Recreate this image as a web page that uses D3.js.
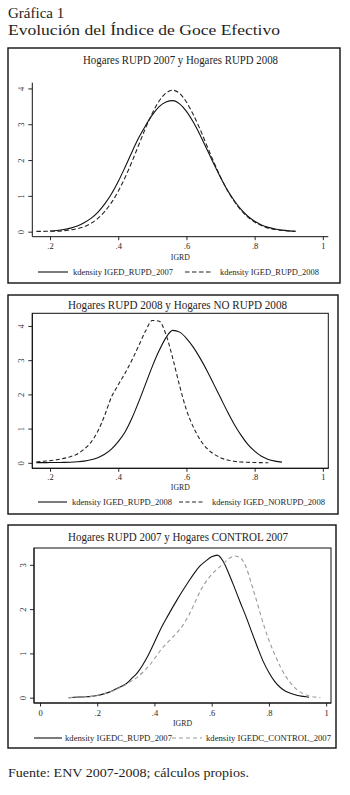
<!DOCTYPE html>
<html><head><meta charset="utf-8">
<script src="https://cdn.jsdelivr.net/npm/d3@7"></script>
<style>
body{margin:0;background:#fff}
svg{display:block}
text{font-family:"Liberation Serif","DejaVu Serif",serif;fill:#1e1e1e}
</style>
</head><body>
<svg id="c" width="350" height="795"></svg>
<script>
// ---------- DATA ----------
const mainTitle = "Gráfica 1";
const subTitle = "Evolución del Índice de Goce Efectivo";
const footer = "Fuente: ENV 2007-2008; cálculos propios.";
const panelTitles = ["Hogares RUPD 2007 y Hogares RUPD 2008",
                     "Hogares RUPD 2008 y Hogares NO RUPD 2008",
                     "Hogares RUPD 2007 y Hogares CONTROL 2007"];
const xAxisTitle = "IGRD";
const legendLabels = [["kdensity IGED_RUPD_2007","kdensity IGED_RUPD_2008"],
                      ["kdensity IGED_RUPD_2008","kdensity IGED_NORUPD_2008"],
                      ["kdensity IGEDC_RUPD_2007","kdensity IGEDC_CONTROL_2007"]];
const xTicks12 = [0.2,0.4,0.6,0.8,1];
const xTickLabels12 = [".2",".4",".6",".8","1"];
const xTicks3 = [0,0.2,0.4,0.6,0.8,1];
const xTickLabels3 = ["0",".2",".4",".6",".8","1"];
const yTicks12 = [0,1,2,3,4];
const yTicks3 = [0,1,2,3];

// Panel 1
const p1aX = [0.20,0.22,0.24,0.26,0.28,0.30,0.32,0.34,0.36,0.38,0.40,0.42,0.44,0.46,0.48,0.50,0.52,0.54,0.56,0.58,0.60,0.62,0.64,0.66,0.68,0.70,0.72,0.74,0.76,0.78,0.80,0.82,0.84,0.86,0.88,0.90,0.92];
const p1aY = [0.02,0.035,0.06,0.10,0.16,0.25,0.37,0.54,0.77,1.05,1.40,1.80,2.22,2.62,2.96,3.26,3.49,3.62,3.66,3.57,3.36,3.06,2.70,2.30,1.90,1.51,1.16,0.87,0.62,0.43,0.29,0.19,0.12,0.073,0.043,0.024,0.013];
const p1bX = [0.16,0.18,0.20,0.22,0.24,0.26,0.28,0.30,0.32,0.34,0.36,0.38,0.40,0.42,0.44,0.46,0.48,0.50,0.52,0.54,0.56,0.58,0.60,0.62,0.64,0.66,0.68,0.70,0.72,0.74,0.76,0.78,0.80,0.82,0.84,0.86,0.88,0.90,0.92];
const p1bY = [0.01,0.01,0.012,0.016,0.028,0.05,0.085,0.14,0.23,0.37,0.56,0.81,1.13,1.51,1.95,2.42,2.89,3.31,3.65,3.87,3.95,3.86,3.62,3.27,2.86,2.40,1.95,1.53,1.16,0.85,0.60,0.41,0.27,0.17,0.10,0.06,0.035,0.02,0.01];

// Panel 2
const p2aX = [0.16,0.18,0.20,0.22,0.24,0.26,0.28,0.30,0.32,0.34,0.36,0.38,0.40,0.42,0.44,0.46,0.48,0.50,0.52,0.54,0.56,0.58,0.60,0.62,0.64,0.66,0.68,0.70,0.72,0.74,0.76,0.78,0.80,0.82,0.84,0.86,0.88];
const p2aY = [0.005,0.006,0.008,0.01,0.013,0.018,0.03,0.05,0.09,0.15,0.25,0.40,0.62,0.90,1.30,1.78,2.30,2.82,3.28,3.66,3.87,3.82,3.64,3.38,3.06,2.70,2.30,1.90,1.50,1.13,0.81,0.54,0.34,0.19,0.10,0.05,0.02];
const p2bX = [0.16,0.18,0.20,0.22,0.24,0.26,0.28,0.30,0.32,0.34,0.36,0.38,0.40,0.42,0.44,0.46,0.48,0.50,0.52,0.54,0.56,0.58,0.60,0.62,0.64,0.66,0.68,0.70,0.72,0.74,0.76,0.78,0.80,0.82,0.84];
const p2bY = [0.03,0.045,0.065,0.09,0.13,0.18,0.26,0.40,0.60,0.92,1.38,1.92,2.28,2.62,3.00,3.42,3.85,4.16,4.14,3.75,3.05,2.25,1.55,1.05,0.68,0.42,0.26,0.15,0.08,0.045,0.025,0.015,0.01,0.005,0.002];

// Panel 3
const p3aX = [0.10,0.12,0.14,0.16,0.18,0.20,0.22,0.24,0.26,0.28,0.30,0.32,0.34,0.36,0.38,0.40,0.42,0.44,0.46,0.48,0.50,0.52,0.54,0.56,0.58,0.60,0.62,0.64,0.66,0.68,0.70,0.72,0.74,0.76,0.78,0.80,0.82,0.84,0.86,0.88,0.90,0.92,0.94];
const p3aY = [0.00,0.01,0.015,0.02,0.03,0.05,0.08,0.12,0.18,0.24,0.31,0.43,0.56,0.75,0.98,1.25,1.53,1.77,2.00,2.22,2.43,2.63,2.82,2.98,3.09,3.18,3.22,3.08,2.80,2.48,2.15,1.83,1.48,1.14,0.82,0.57,0.37,0.23,0.14,0.09,0.05,0.03,0.01];
const p3bX = [0.10,0.12,0.14,0.16,0.18,0.20,0.22,0.24,0.26,0.28,0.30,0.32,0.34,0.36,0.38,0.40,0.42,0.44,0.46,0.48,0.50,0.52,0.54,0.56,0.58,0.60,0.62,0.64,0.66,0.68,0.70,0.72,0.74,0.76,0.78,0.80,0.82,0.84,0.86,0.88,0.90,0.92,0.94,0.96,0.98];
const p3bY = [0.00,0.01,0.015,0.02,0.03,0.05,0.08,0.12,0.17,0.23,0.30,0.38,0.46,0.58,0.71,0.88,1.06,1.21,1.34,1.48,1.64,1.86,2.13,2.41,2.62,2.78,2.91,3.02,3.14,3.20,3.16,2.95,2.55,2.12,1.68,1.30,0.98,0.70,0.47,0.30,0.17,0.09,0.04,0.015,0.00];

// ---------- LAYOUT ----------
const svg = d3.select("#c");
svg.append("rect").attr("width",350).attr("height",795).attr("fill","#fff");

svg.append("text").attr("x",8).attr("y",18).attr("font-size",15).text(mainTitle);
svg.append("text").attr("x",8).attr("y",35).attr("font-size",15)
  .attr("textLength",272).attr("lengthAdjust","spacingAndGlyphs").text(subTitle);
svg.append("text").attr("x",8).attr("y",777).attr("font-size",12.5)
  .attr("textLength",241).attr("lengthAdjust","spacingAndGlyphs").text(footer);

const panels = [
  {outer:[8,48,332,235], plot:{l:32.3,r:328.3,t:82.7,b:236.7}, box:false,
   xd:[0.148,1.016], yd:[-0.14,4.16], xt:xTicks12, xl:xTickLabels12, yt:yTicks12,
   title:{cx:180.5,y:63.5,size:11.5,len:195}, xlabOff:12, igrd:259.5, legY:272,
   leg:[[38,68,73,100],[185,213,220,99]],
   series:[{x:p1aX,y:p1aY,color:"#111",dash:null},{x:p1bX,y:p1bY,color:"#222",dash:"4.5,2.5"}]},
  {outer:[8,295,330,219], plot:{l:32.3,r:328.3,t:313.3,b:468.3}, box:true,
   xd:[0.148,1.016], yd:[-0.16,4.37], xt:xTicks12, xl:xTickLabels12, yt:yTicks12,
   title:{cx:177.5,y:309,size:12.5,len:219}, xlabOff:12, igrd:489.5, legY:502,
   leg:[[38,67,72,100],[179,205,212,113]],
   series:[{x:p2aX,y:p2aY,color:"#111",dash:null},{x:p2bX,y:p2bY,color:"#222",dash:"4,2.5"}]},
  {outer:[8,525,328,223], plot:{l:34,r:331,t:548,b:703}, box:true,
   xd:[-0.021,1.017], yd:[-0.12,3.38], xt:xTicks3, xl:xTickLabels3, yt:yTicks3,
   title:{cx:178,y:541,size:12.5,len:220}, xlabOff:13, igrd:725.5, legY:738,
   leg:[[34,62,65,107],[172,202,206,125]],
   series:[{x:p3aX,y:p3aY,color:"#111",dash:null},{x:p3bX,y:p3bY,color:"#9a9a9a",dash:"4,3"}]}
];

panels.forEach((P,i)=>{
  const g = svg.append("g");
  const [ox,oy,ow,oh] = P.outer;
  g.append("rect").attr("x",ox).attr("y",oy).attr("width",ow).attr("height",oh)
    .attr("fill","none").attr("stroke","#111").attr("stroke-width",1.4);

  g.append("text").attr("x",P.title.cx).attr("y",P.title.y).attr("text-anchor","middle")
    .attr("font-size",P.title.size).attr("fill","#2b2b38")
    .attr("textLength",P.title.len).attr("lengthAdjust","spacingAndGlyphs").text(panelTitles[i]);

  const p = P.plot;
  const x = d3.scaleLinear().domain(P.xd).range([p.l,p.r]);
  const y = d3.scaleLinear().domain(P.yd).range([p.b,p.t]);

  if (P.box) {
    g.append("rect").attr("x",p.l).attr("y",p.t).attr("width",p.r-p.l).attr("height",p.b-p.t)
      .attr("fill","none").attr("stroke","#111").attr("stroke-width",1);
  }

  const xa = g.append("g").attr("transform",`translate(0,${p.b})`)
    .call(d3.axisBottom(x).tickValues(P.xt).tickSize(3.5).tickSizeOuter(0)
      .tickFormat((d,k)=>P.xl[k]));
  xa.select(".domain").attr("stroke","#111").attr("stroke-width",1)
    .attr("d",`M${p.l},0H${p.r}`);
  xa.selectAll(".tick line").attr("stroke","#111").attr("stroke-width",0.9);
  xa.selectAll(".tick text").attr("y",P.xlabOff).attr("dy","0").attr("font-size",8.5)
    .attr("font-family","Liberation Serif, serif").attr("fill","#222");

  const ya = g.append("g").attr("transform",`translate(${p.l},0)`)
    .call(d3.axisLeft(y).tickValues(P.yt).tickSize(4).tickSizeOuter(0).tickFormat(d3.format("d")));
  ya.select(".domain").attr("stroke","#111").attr("stroke-width",1)
    .attr("d",`M0,${p.t}V${p.b}`);
  ya.selectAll(".tick line").attr("stroke","#111").attr("stroke-width",0.9);
  ya.selectAll(".tick text").attr("transform","rotate(-90)").attr("x",0).attr("y",-8)
    .attr("dy","0").attr("text-anchor","middle").attr("font-size",8.5)
    .attr("font-family","Liberation Serif, serif").attr("fill","#222");

  g.append("text").attr("x",(p.l+p.r)/2).attr("y",P.igrd).attr("text-anchor","middle")
    .attr("font-size",8.5).attr("textLength",19).attr("lengthAdjust","spacingAndGlyphs").text(xAxisTitle);

  const line = d3.line().curve(d3.curveMonotoneX);
  P.series.forEach(s=>{
    const pts = s.x.map((v,k)=>[x(v),y(s.y[k])]);
    g.append("path").attr("d",line(pts)).attr("fill","none")
      .attr("stroke",s.color).attr("stroke-width",1.1)
      .attr("stroke-dasharray",s.dash);
  });

  P.leg.forEach((L,k)=>{
    const s = P.series[k];
    g.append("line").attr("x1",L[0]).attr("x2",L[1]).attr("y1",P.legY).attr("y2",P.legY)
      .attr("stroke",s.color).attr("stroke-width",1.1).attr("stroke-dasharray",s.dash);
    g.append("text").attr("x",L[2]).attr("y",P.legY+3).attr("font-size",8.5)
      .attr("textLength",L[3]).attr("lengthAdjust","spacingAndGlyphs").text(legendLabels[i][k]);
  });
});
</script>
</body></html>
